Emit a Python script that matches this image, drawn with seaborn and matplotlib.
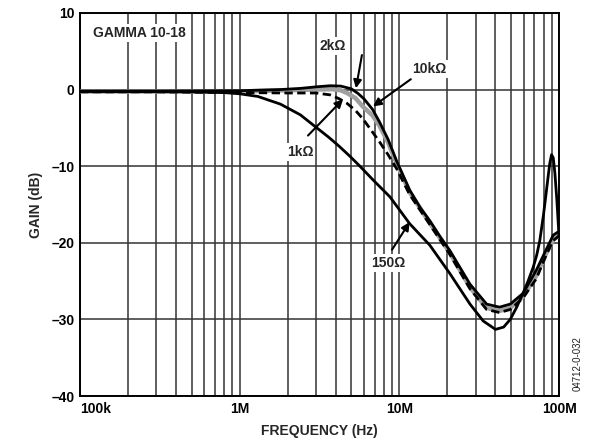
import matplotlib
matplotlib.use("Agg")
import matplotlib.pyplot as plt
from matplotlib.ticker import LogLocator, NullFormatter, FixedLocator
import seaborn as sns

# frequency in Hz, gain in dB
freq_150 = [1e5, 3e5, 5e5, 8e5, 1e6, 1.3e6, 1.8e6, 2.4e6, 3e6, 3.6e6, 4.2e6, 4.9e6,
            5.66e6, 7e6, 8.73e6, 11.6e6, 15.5e6, 20.7e6, 27.7e6, 33.5e6, 40e6, 45e6,
            49.5e6, 54e6, 59.5e6, 64e6, 68.9e6, 72.5e6, 75.8e6, 80e6, 83.5e6, 86e6,
            87.6e6, 89.8e6, 92e6, 94.2e6, 97e6, 100e6]
gain_150 = [-0.25, -0.27, -0.3, -0.4, -0.55, -0.9, -1.9, -3.3, -4.9, -6.2, -7.4, -8.7,
            -10.0, -12.0, -14.0, -17.5, -20.3, -24.0, -28.0, -30.2, -31.3, -31.0,
            -30.0, -28.5, -26.6, -25.0, -23.2, -21.6, -19.7, -16.3, -13.1, -10.9,
            -9.6, -8.5, -8.9, -10.9, -14.5, -19.2]

freq_1k = [1e5, 3e5, 1e6, 2e6, 3e6, 3.7e6, 4.2e6, 4.7e6, 5.3e6, 5.9e6, 6.5e6, 7.5e6,
           8.5e6, 9.6e6, 11.6e6, 15.5e6, 20.7e6, 27.7e6, 35.2e6, 42.4e6, 49.5e6,
           59.5e6, 72e6, 83.5e6, 92e6, 100e6]
gain_1k = [-0.3, -0.3, -0.4, -0.45, -0.45, -0.7, -1.2, -1.8, -2.7, -3.8, -5.0, -6.8,
           -8.5, -10.3, -13.7, -17.6, -21.5, -26.0, -28.7, -29.1, -28.7,
           -27.2, -24.7, -21.5, -19.7, -19.1]

freq_2k = [1e5, 3e5, 1e6, 2e6, 3e6, 3.8e6, 4.3e6, 4.7e6, 5.3e6, 5.9e6, 6.8e6, 7.5e6,
           8.5e6, 9.6e6, 11.6e6, 15.5e6, 20.7e6, 27.7e6, 35.2e6, 42.4e6, 49.5e6,
           59.5e6, 72e6, 83.5e6, 92e6, 100e6]
gain_2k = [-0.25, -0.25, -0.25, -0.1, 0.0, 0.05, -0.1, -0.45, -1.1, -2.2, -3.4, -4.7,
           -6.9, -9.6, -13.4, -17.4, -21.3, -25.8, -28.5, -28.9, -28.5,
           -27.0, -24.3, -21.3, -19.6, -19.0]

freq_10k = [1e5, 3e5, 1e6, 1.8e6, 2.4e6, 3e6, 3.7e6, 4.3e6, 5e6, 5.5e6, 6e6, 6.8e6,
            7.5e6, 8.5e6, 9.6e6, 11.6e6, 13.5e6, 15.5e6, 18e6, 20.7e6, 27.7e6, 35.2e6,
            42.4e6, 49.5e6, 59.5e6, 72e6, 83.5e6, 92e6, 100e6]
gain_10k = [-0.2, -0.2, -0.15, 0.0, 0.15, 0.35, 0.5, 0.45, 0.1, -0.5, -1.2, -2.6,
            -4.2, -6.5, -9.3, -13.1, -15.4, -17.1, -19.2, -21.0, -25.4, -28.0,
            -28.4, -28.0, -26.6, -23.6, -20.8, -19.0, -18.5]

x_ticks = [1e5, 1e6, 1e7, 1e8]
x_tick_labels = ["100k", "1M", "10M", "100M"]
y_ticks = [10, 0, -10, -20, -30, -40]
y_tick_labels = ["10", "0", "\u201310", "\u201320", "\u201330", "\u201340"]

sns.set_theme(style="white")
plt.rcParams["font.family"] = ["Liberation Sans", "DejaVu Sans"]

fig = plt.figure(figsize=(6, 4.46), dpi=100)
ax = fig.add_axes([0.1333, 0.112, 0.7984, 0.859])

grid_col = "#333333"
sns.lineplot(x=freq_2k, y=gain_2k, ax=ax, color="#a0a0a0", lw=3.2, sort=False, estimator=None, zorder=3)
sns.lineplot(x=freq_1k, y=gain_1k, ax=ax, color="black", lw=2.0, sort=False, estimator=None, zorder=4)
ax.lines[-1].set_linestyle((0, (3, 1.6)))
sns.lineplot(x=freq_10k, y=gain_10k, ax=ax, color="black", lw=2.0, sort=False, estimator=None, zorder=5)
sns.lineplot(x=freq_150, y=gain_150, ax=ax, color="black", lw=2.0, sort=False, estimator=None, zorder=5)

ax.set_xscale("log")
ax.set_xlim(1e5, 1e8)
ax.set_ylim(-40, 10)
ax.xaxis.set_major_locator(FixedLocator(x_ticks))
ax.xaxis.set_minor_locator(LogLocator(base=10, subs=range(2, 10)))
ax.xaxis.set_minor_formatter(NullFormatter())
ax.set_xticks(x_ticks)
ax.set_xticklabels(x_tick_labels, fontsize=10, fontweight="bold")
ax.set_yticks(y_ticks)
ax.set_yticklabels(y_tick_labels, fontsize=10, fontweight="bold")
xl = ax.get_xticklabels()
xl[0].set_horizontalalignment("left")
ax.tick_params(axis="both", which="both", length=0, pad=4, colors="black")
ax.grid(True, which="both", axis="x", color=grid_col, lw=1.1)
ax.grid(True, which="major", axis="y", color=grid_col, lw=1.1)
for s in ax.spines.values():
    s.set_color("black")
    s.set_linewidth(1.4)

ax.set_xlabel("FREQUENCY (Hz)", fontsize=10, fontweight="bold", labelpad=6)
ax.set_ylabel("GAIN (dB)", fontsize=10, fontweight="bold", labelpad=6)

box = dict(facecolor="white", edgecolor="none", pad=1.5)
ax.text(1.206e5, 7.4, "GAMMA 10-18", ha="left", va="center", fontsize=10,
        fontweight="bold", bbox=box, zorder=6)

arrow = dict(arrowstyle="-|>", color="black", lw=1.5, mutation_scale=12,
             shrinkA=0, shrinkB=0)
labels = [
    ("2k\u03a9", (3.84e6, 5.67), (5.83e6, 4.5), (5.35e6, 0.17)),
    ("10k\u03a9", (15.3e6, 2.66), (11.8e6, 1.35), (6.84e6, -2.2)),
    ("1k\u03a9", (2.39e6, -8.2), (2.68e6, -6.0), (4.44e6, -1.27)),
    ("150\u03a9", (8.49e6, -22.6), (9.0e6, -20.9), (11.6e6, -17.3)),
]
for txt, pos, tail, head in labels:
    ax.annotate("", xy=head, xytext=tail, arrowprops=arrow, zorder=7)
    ax.text(pos[0], pos[1], txt, ha="center", va="center", fontsize=10,
            fontweight="bold", bbox=box, zorder=6)

fig.text(0.962, 0.185, "04712-0-032", rotation=90, fontsize=7, ha="center",
         va="center", color="#222222")

fig.savefig("out.png", dpi=100)
